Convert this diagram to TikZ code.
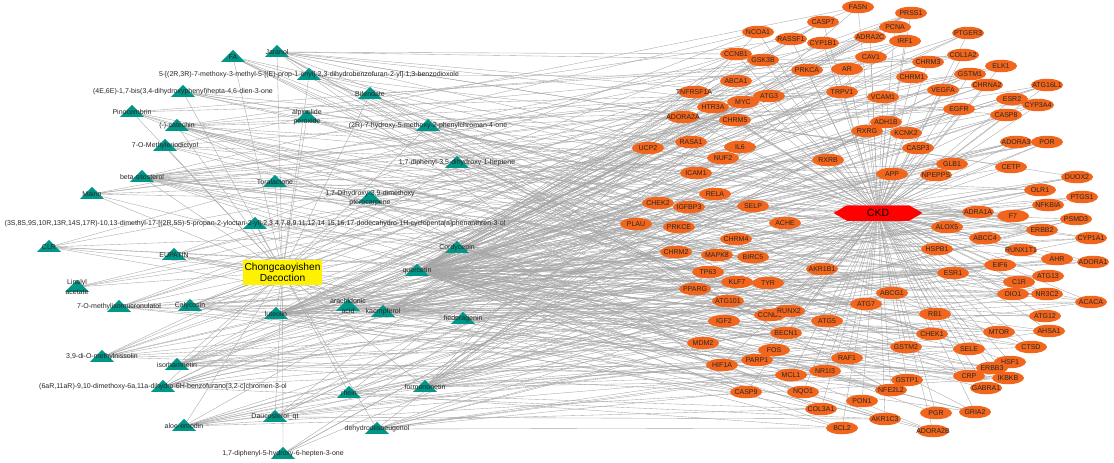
\documentclass[tikz,border=0pt]{standalone}
\usepackage{fontspec}
\setmainfont{Liberation Sans}
\usetikzlibrary{shapes.geometric,shapes.symbols,backgrounds}
\definecolor{tealc}{RGB}{0,150,136}
\definecolor{orng}{RGB}{241,102,28}
\definecolor{edgec}{RGB}{165,165,165}
\tikzset{
  tri/.style={isosceles triangle, isosceles triangle stretches, shape border rotate=90,
    minimum width=24pt, minimum height=12pt, inner sep=0pt, fill=tealc},
  clab/.style={font=\fontsize{7}{9.5}\selectfont, text=black!85, inner sep=0pt, align=center},
  tgt/.style={ellipse, fill=orng, minimum width=32pt, minimum height=12.5pt, inner sep=0pt,
    font=\fontsize{7}{8}\selectfont, text=black!85},
  decbox/.style={rectangle, fill=yellow, minimum width=79pt, minimum height=25pt, inner sep=0pt,
    align=center, font=\fontsize{10.2}{11}\selectfont},
  ckdnode/.style={signal, signal to=west and east, signal pointer angle=60, fill=red,
    minimum width=89pt, minimum height=15.5pt, inner sep=0pt, font=\fontsize{10.5}{12}\selectfont},
  edge/.style={draw=edgec, line width=0.35pt}
}
\def\complist{
FA/233/57,
Jaranol/277/52,
{5-[(2R,3R)-7-methoxy-3-methyl-5-[(E)-prop-1-enyl]-2,3-dihydrobenzofuran-2-yl]-1,3-benzodioxole}/309/75,
{(4E,6E)-1,7-bis(3,4-dihydroxyphenyl)hepta-4,6-dien-3-one}/183/92,
Pinocembrin/132/112,
{(-)-catechin}/177/126,
7-O-Methyleriodictyol/165/146,
beta-sitosterol/142/177,
Mairin/92/194,
{(3S,8S,9S,10R,13R,14S,17R)-10,13-dimethyl-17-[(2R,5S)-5-propan-2-yloctan-2-yl]-2,3,4,7,8,9,11,12,14,15,16,17-dodecahydro-1H-cyclopenta[a]phenanthren-3-ol}/255/224,
CLR/49/247,
EUPATIN/174/255,
{Linalyl\\acetate}/77/287,
7-O-methylisomucronulatol/119/307,
Calycosin/190/306,
luteolin/276/314,
{3,9-di-O-methylnissolin}/102/357,
isorhamnetin/177/365,
{(6aR,11aR)-9,10-dimethoxy-6a,11a-dihydro-6H-benzofurano[3,2-c]chromen-3-ol}/163/387,
aloe-emodin/184/426,
{Daucosterol\_qt}/275/417,
{1,7-diphenyl-5-hydroxy-6-hepten-3-one}/283/454,
Bifendate/370/94,
{alpinolide\\peroxide}/307/117,
{(2R)-7-hydroxy-5-methoxy-2-phenylchroman-4-one}/428/126,
{1,7-diphenyl-3,5-dihydroxy-1-heptene}/457/163,
Toralactone/275/182,
{1,7-Dihydroxy-3,9-dimethoxy\\pterocarpene}/370/198,
Cordycepin/457/248,
quercetin/417/271,
{arachidonic\\acid}/348/306,
kaempferol/383/312,
hederagenin/463/319,
rhein/349/393,
formononetin/425/387,
dehydrodiisoeugenol/377/429}
\def\tgtlist{
FASN/858/7, PRSS1/911/13, CASP7/823/22, PCNA/895/27, NCOA1/758/32, PTGER3/968/33,
ADRA2C/870/37, RASSF1/791/39, IRF1/905/41, CYP1B1/823/43, CCNB1/736/54, COL1A2/963/55,
CAV1/871/57, GSK3B/763/60, CHRM3/928/62, ELK1/1001/66, AR/847/69, PRKCA/807/70,
GSTM1/970/74, CHRM1/912/77, ABCA1/736/81, CHRNA2/987/85, ATG16L1/1047/85, VEGFA/943/90,
TNFRSF1A/694/92, TRPV1/842/92, ATG3/769/96, VCAM1/883/97, ESR2/1012/99, MYC/743/102,
CYP3A4/1038/105, HTR3A/713/107, EGFR/959/109, CASP8/1006/115, ADORA2A/683/117, CHRM5/735/120,
ADH1B/886/122, RXRG/867/131, KCNK2/906/133, RASA1/691/142, ADORA3/1016/142, POR/1047/142,
IL6/740/147, UCP2/648/148, CASP3/918/148, NUF2/723/158, RXRB/828/160, GLB1/952/164,
CETP/1011/167, ICAM1/696/173, APP/892/174, NPEPPS/936/175, DUOX2/1077/177, OLR1/1040/190,
RELA/715/194, PTGS1/1082/197, CHEK2/658/203, NFKBIA/1048/205, SELP/753/206, IGFBP3/689/207,
ADRA1A/978/212, F7/1013/216, PSMD3/1076/219, ACHE/785/223, PLAU/636/224, PRKCE/679/227,
ALOX5/947/227, ERBB2/1042/230, CHRM4/736/239, ABCC4/985/238, CYP1A1/1091/238, HSPB1/937/249,
RUNX1T1/1021/250, CHRM2/676/252, MAPK8/717/255, BIRC5/753/257, AHR/1057/259, ADORA1/1093/262,
EIF6/1000/265, AKR1B1/822/269, TP63/708/272, ESR1/953/273, ATG13/1048/276, KLF7/737/282,
C1R/1019/282, TYR/768/283, PPARG/695/289, ABCG1/892/293, DIO1/1013/294, NR3C2/1047/294,
ATG101/728/301, ACACA/1091/302, ATG7/866/304, CCND1/770/315, RB1/935/314, RUNX2/789/311,
ATG12/1045/316, ATG5/827/321, IGF2/724/321, AHSA1/1049/331, MTOR/999/332, BECN1/786/333,
CHEK1/932/334, MDM2/703/343, GSTM2/906/347, CTSD/1031/347, SELE/969/349, FOS/774/350,
RAF1/847/358, PARP1/757/360, HSF1/1010/362, HIF1A/722/365, ERBB3/992/368, NR1I3/825/371,
MCL1/791/375, CRP/969/376, IKBKB/1008/378, GSTP1/907/380, GABRA1/986/388, NFE2L2/891/390,
CASP9/746/392, NQO1/803/392, PON1/862/401, COL3A1/821/409, GRIA2/975/412, PGR/936/413,
AKR1C3/885/419, BCL2/842/428, ADORA2B/933/431}
\begin{document}
\begin{tikzpicture}[x=1pt,y=-1pt]
\path[use as bounding box] (0,0) rectangle (1114,463);
% compounds
\foreach \lab/\x/\y [count=\i] in \complist {
  \node[tri] (c\i) at (\x,\y) {};
}
\foreach \lab/\x/\y [count=\i] in \complist {
  \node[clab] (l\i) at (\x,\y) {\lab};
}
% targets
\foreach \lab/\x/\y [count=\i] in \tgtlist {
  \node[tgt] (t\i) at (\x,\y) {\makebox[0pt]{\lab}};
}
\node[decbox] (dec) at (282.5,272) {Chongcaoyishen\\Decoction};
\node[ckdnode] (ckd) at (878,213) {CKD};
\begin{pgfonlayer}{background}
  \fill[white] (0,0) rectangle (1114,463);
  \foreach \i in {1,...,36} { \draw[edge] (dec) -- (c\i); }
  \foreach \i in {1,...,129} { \draw[edge] (ckd) -- (t\i); }
  \foreach \ci/\kk in {1/6,2/12,3/5,4/5,5/6,6/12,7/6,8/20,9/6,10/5,11/6,12/6,13/3,14/10,15/12,
      16/30,17/10,18/15,19/12,20/12,21/8,22/4,23/4,24/3,25/8,26/5,27/5,28/5,29/6,30/90,
      31/10,32/30,33/6,34/8,35/20,36/10} {
    \foreach \j in {1,...,\kk} {
      \pgfmathtruncatemacro\stp{7+6*mod(\ci,4)}
      \pgfmathtruncatemacro\tg{mod(\ci*41+\j*\stp,129)+1}
      \draw[edge] (c\ci) -- (t\tg);
    }
  }
\end{pgfonlayer}
\end{tikzpicture}
\end{document}
